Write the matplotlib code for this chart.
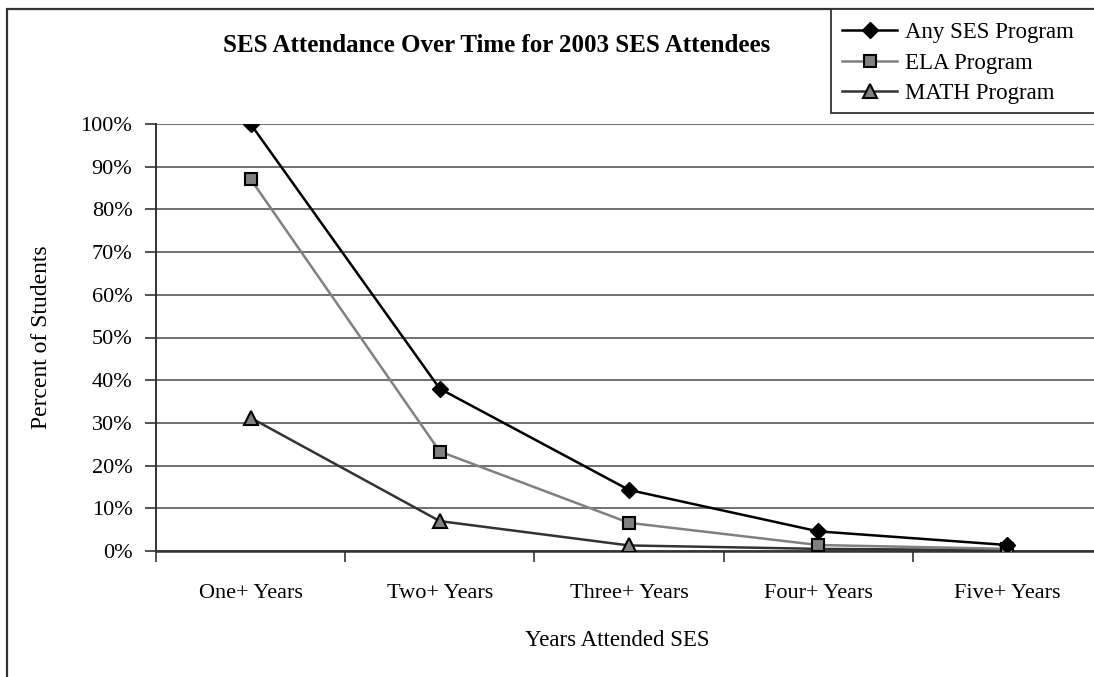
import numpy as np
import matplotlib
matplotlib.use("Agg")
import matplotlib.pyplot as plt
from matplotlib.patches import Rectangle
from matplotlib.ticker import FixedLocator, PercentFormatter

plt.rcParams['font.family'] = ['Liberation Serif', 'DejaVu Serif']

# Share of 2003 SES attendees still attending after N years (percent)
categories = ["One+ Years", "Two+ Years", "Three+ Years", "Four+ Years", "Five+ Years"]
any_ses = [100.0, 38.0, 14.3, 4.6, 1.4]
ela = [87.1, 23.3, 6.6, 1.4, 0.5]
math_prog = [31.2, 7.0, 1.3, 0.5, 0.2]

W, H = 1094, 677
fig = plt.figure(figsize=(W / 100, H / 100), dpi=100)

# outer chart frame (right/bottom edges fall outside the canvas)
fig.patches.append(Rectangle((7 / W, -0.2), 1.2, 1.2 - 9 / H, transform=fig.transFigure,
                             fill=False, edgecolor='#333333', linewidth=1.6))

ax = fig.add_axes([156 / W, (H - 551) / H, (1102 - 156) / W, (551 - 124) / H])
x = np.arange(len(categories))

ax.plot(x, math_prog, color='#333333', lw=1.8, marker='^', ms=10,
        mfc='#808080', mec='black', mew=1.5, label='MATH Program', zorder=3)
ax.plot(x, ela, color='#808080', lw=1.8, marker='s', ms=8.5,
        mfc='#808080', mec='black', mew=1.5, label='ELA Program', zorder=4)
ax.plot(x, any_ses, color='black', lw=1.8, marker='D', ms=8.5,
        mfc='black', mec='black', label='Any SES Program', zorder=5)

ax.set_xlim(-0.5, len(categories) - 0.5)
ax.set_ylim(0, 100)
ax.set_yticks(np.arange(0, 101, 10))
ax.yaxis.set_major_formatter(PercentFormatter(decimals=0))
ax.grid(axis='y', color='#707070', lw=1.4, zorder=1)
ax.set_axisbelow(True)

ax.set_xticks(x)
ax.set_xticklabels(categories)
ax.xaxis.set_minor_locator(FixedLocator(np.arange(-0.5, len(categories), 1.0)))
ax.tick_params(axis='x', which='major', length=0, pad=24, labelsize=16)
ax.tick_params(axis='x', which='minor', length=8, width=1.2, color='#333333', direction='out')
ax.tick_params(axis='y', length=8, width=1.2, color='#333333', pad=9, labelsize=16)

for side in ['top', 'right']:
    ax.spines[side].set_visible(False)
ax.spines['left'].set_color('#333333')
ax.spines['left'].set_linewidth(1.4)
ax.spines['bottom'].set_color('#333333')
ax.spines['bottom'].set_linewidth(1.8)

ax.set_ylabel('Percent of Students', fontsize=17)
ax.yaxis.set_label_coords(-(156 - 52) / (1102 - 156), 0.5)
ax.set_xlabel('Years Attended SES', fontsize=16.5)
ax.xaxis.set_label_coords((617 - 156) / (1102 - 156), -(630 - 551) / (551 - 124))

fig.text(497 / W, 1 - 45 / H, 'SES Attendance Over Time for 2003 SES Attendees',
         ha='center', va='center', fontsize=18, fontweight='bold')

# legend in its own box at the top right
fig.patches.append(Rectangle((831 / W, 1 - 113 / H), 0.5, (113 - 9) / H,
                             transform=fig.transFigure, fill=True, facecolor='white',
                             edgecolor='#333333', linewidth=1.3, zorder=5))
handles, labels = ax.get_legend_handles_labels()
leg = fig.legend(handles[::-1], labels[::-1], loc='upper left',
                 bbox_to_anchor=(842 / W, 1 - 22 / H), frameon=False,
                 fontsize=16.5, handlelength=2.4, handletextpad=0.35,
                 labelspacing=0.42, borderpad=0, borderaxespad=0)
leg.set_zorder(6)

fig.savefig('out.png', dpi=100)
